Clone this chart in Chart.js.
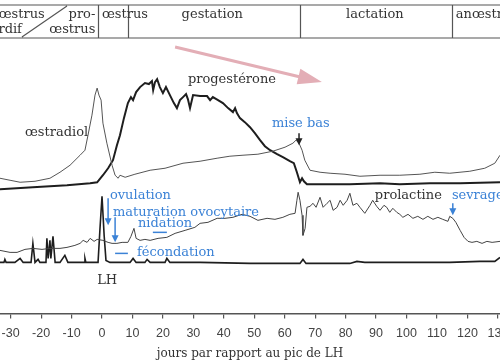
<!DOCTYPE html>
<html>
<head>
<meta charset="utf-8">
<script src="https://cdn.jsdelivr.net/npm/chart.js@4/dist/chart.umd.min.js"></script>
<style>
  html, body { margin: 0; padding: 0; background: #fff; }
  canvas { display: block; }
</style>
</head>
<body>
<canvas id="chart" width="500" height="362"></canvas>
<script>
// days relative to the LH peak, hormone levels in arbitrary units
var tickDays = [-30, -20, -10, 0, 10, 20, 30, 40, 50, 60, 70, 80, 90, 100, 110, 120, 130];

var estradiolDays = [-33.5, -30.2, -26.9, -22, -17.1, -13.8, -10.5, -7.2, -5.6, -4.6, -3.3, -2.3, -1.6, -1.0, -0.3, 0.3, 1.6, 3.3, 4.3, 5.3, 5.9, 7.6, 10.8, 15.8, 20.7, 26.6, 32.2, 37.8, 42.0, 46.3, 51.2, 56.1, 60.1, 62.7, 63.7, 64.7, 65.7, 66.6, 68.3, 71.6, 74.9, 79.8, 84.7, 91.3, 97.8, 104.4, 109.3, 114.2, 120.8, 125.7, 129, 130.7];
var estradiolVals = [135, 133, 131, 132, 135, 141, 148, 158, 163, 178, 198, 218, 225, 218, 213, 190, 170, 148, 138, 135, 138, 136, 139, 143, 145, 150, 152, 155, 157, 158, 159, 162, 166, 170, 173, 170, 163, 153, 143, 141, 140, 139, 137, 138, 138, 139, 141, 140, 142, 145, 150, 158];

var progesteroneDays = [-33.5, -22.7, -11.5, -3.9, -1.6, 0.3, 2.0, 3.6, 4.9, 5.9, 7.2, 8.5, 9.5, 10.2, 11.2, 12.5, 14.1, 15.4, 16.4, 16.8, 17.4, 18.1, 19.0, 20.0, 21.0, 22.3, 23.6, 24.6, 25.6, 26.6, 27.6, 28.2, 28.9, 29.9, 32.2, 34.5, 35.5, 36.4, 38.1, 39.7, 41.4, 43.0, 43.7, 44.3, 45.3, 46.9, 48.6, 50.2, 51.9, 53.5, 55.2, 57.5, 59.4, 61.7, 63.0, 64.0, 65.0, 65.7, 66.3, 67.3, 74.9, 81.4, 91.3, 97.8, 107.7, 117.6, 130.7];
var progesteroneVals = [124, 126, 128, 130, 131, 138, 145, 153, 168, 178, 195, 210, 216, 213, 221, 226, 230, 229, 232, 223, 231, 234, 226, 220, 226, 218, 210, 205, 213, 216, 219, 214, 205, 218, 217, 217, 213, 216, 213, 210, 205, 201, 205, 200, 195, 191, 186, 180, 173, 167, 163, 159, 156, 152, 150, 141, 131, 135, 132, 129, 129, 129, 130, 129, 130, 130, 131];

var prolactinDays = [-33.5, -30.2, -27.9, -25.3, -22.7, -19.7, -17.1, -13.8, -11.5, -8.9, -7.2, -6.2, -4.9, -3.9, -2.6, -1.6, 0.3, 2.0, 3.3, 4.9, 6.6, 8.5, 9.5, 10.5, 11.2, 12.5, 14.1, 15.8, 18.4, 21.3, 24.0, 27.3, 30.5, 32.2, 34.8, 37.8, 40.4, 43.0, 46.0, 48.6, 51.2, 54.2, 56.8, 59.4, 61.7, 63.4, 64.0, 64.4, 65.0, 65.7, 66.0, 66.7, 67.3, 68.3, 69.3, 70.3, 71.6, 72.6, 73.9, 74.9, 75.9, 77.2, 78.2, 79.2, 80.5, 81.4, 82.4, 83.7, 84.7, 86.3, 88.0, 88.9, 90.2, 91.3, 92.6, 93.5, 94.5, 95.5, 96.8, 97.8, 98.8, 100.5, 102.1, 103.7, 105.4, 107.0, 108.7, 110.3, 111.9, 113.6, 114.2, 115.2, 116.2, 117.6, 118.9, 120.2, 121.5, 123.1, 124.8, 126.4, 128.1, 130.7];
var prolactinVals = [63, 61, 61, 64, 65, 64, 65, 65, 66, 68, 70, 73, 71, 75, 72, 74, 73, 71, 70, 70, 71, 71, 77, 85, 75, 73, 74, 73, 75, 76, 80, 83, 86, 90, 91, 95, 95, 96, 99, 97, 93, 95, 94, 96, 99, 100, 113, 121, 113, 98, 78, 85, 106, 107, 110, 106, 116, 106, 110, 113, 103, 106, 113, 108, 113, 120, 108, 110, 106, 100, 108, 113, 107, 103, 108, 106, 101, 105, 101, 99, 96, 99, 95, 97, 94, 97, 94, 96, 94, 92, 97, 95, 91, 83, 76, 72, 71, 72, 70, 72, 71, 72];

var lhDays = [-33.5, -32.2, -31.9, -31.5, -28.6, -26.9, -25.9, -23.3, -22.7, -22.0, -21.0, -20.4, -18.4, -18.1, -17.7, -17.1, -16.8, -16.1, -15.4, -13.8, -12.2, -11.2, -5.9, -5.6, -5.3, -1.3, -0.7, 0, 0.7, 1.3, 2.6, 9.2, 10.2, 11.2, 14.1, 14.8, 15.8, 20.7, 21.3, 22.3, 32.2, 48.6, 65.0, 66.0, 67.0, 81.4, 83.7, 86.3, 97.8, 114.2, 124.1, 129, 130.7];
var lhVals = [51, 51, 54, 51, 51, 55, 51, 51, 70, 51, 54, 51, 51, 75, 55, 73, 55, 77, 51, 51, 58, 51, 51, 55, 51, 51, 83, 117, 78, 53, 51, 51, 55, 51, 51, 54, 51, 51, 55, 51, 51, 50, 50, 54, 50, 50, 52, 51, 51, 51, 52, 52, 56];

// reproductive phases (header), boundaries in days
var phaseBounds = [-1.3, 8.5, 65, 115];

var blue = '#3b82d6';
var ink = '#333';

function points(days, vals) {
  return days.map(function (d, i) { return {x: d, y: vals[i]}; });
}

var labels = [
  {text: 'œstradiol', day: -25.3, val: 181, color: ink},
  {text: 'progestérone', day: 28.2, val: 233, color: ink},
  {text: 'mise bas', day: 55.8, val: 190, color: blue},
  {text: 'prolactine', day: 89.6, val: 118, color: ink},
  {text: 'sevrage', day: 114.9, val: 118, color: blue},
  {text: 'ovulation', day: 2.6, val: 118, color: blue},
  {text: 'maturation ovocytaire', day: 3.6, val: 101, color: blue},
  {text: 'nidation', day: 11.8, val: 90, color: blue},
  {text: 'fécondation', day: 11.5, val: 61, color: blue},
  {text: 'LH', day: -1.6, val: 33, color: ink}
];

var arrows = [
  {day: 2.0, from: 115, to: 88, color: blue},
  {day: 4.3, from: 96, to: 71, color: blue},
  {day: 115.2, from: 110, to: 98, color: blue},
  {day: 64.7, from: 180, to: 168, color: '#222'}
];

var dashes = [
  {from: 16.7, to: 21.3, val: 81},
  {from: 4.3, to: 8.5, val: 60}
];

function arrowHead(ctx, x, y, angle, len, half) {
  ctx.save();
  ctx.translate(x, y);
  ctx.rotate(angle);
  ctx.beginPath();
  ctx.moveTo(0, 0);
  ctx.lineTo(-len, -half);
  ctx.lineTo(-len, half);
  ctx.closePath();
  ctx.fill();
  ctx.restore();
}

var decorations = {
  id: 'decorations',
  afterDraw: function (chart) {
    var ctx = chart.ctx;
    var xs = chart.scales.x, ys = chart.scales.y;
    var top = 5, bottom = chart.chartArea.top;
    ctx.save();

    // phase header
    ctx.strokeStyle = '#555';
    ctx.lineWidth = 1.2;
    ctx.beginPath();
    ctx.moveTo(0, top); ctx.lineTo(500, top);
    ctx.moveTo(0, bottom); ctx.lineTo(500, bottom);
    phaseBounds.forEach(function (d) {
      var x = Math.round(xs.getPixelForValue(d)) + 0.5;
      ctx.moveTo(x, top); ctx.lineTo(x, bottom);
    });
    ctx.moveTo(xs.getPixelForValue(-11.5), top + 1);
    ctx.lineTo(xs.getPixelForValue(-26.3), bottom - 1);
    ctx.stroke();

    ctx.fillStyle = ink;
    ctx.font = '13px "DejaVu Serif"';
    ctx.textBaseline = 'middle';
    ctx.textAlign = 'right';
    ctx.fillText('anœstrus', xs.getPixelForValue(-18.8), 15);
    ctx.fillText('tardif', xs.getPixelForValue(-26.3), 30);
    ctx.fillText('pro-', xs.getPixelForValue(-2.2), 15);
    ctx.fillText('œstrus', xs.getPixelForValue(-2.2), 30);
    ctx.textAlign = 'left';
    ctx.fillText('œstrus', xs.getPixelForValue(0), 15);
    ctx.fillText('anœstrus', xs.getPixelForValue(116.2), 15);
    ctx.textAlign = 'center';
    ctx.fillText('gestation', xs.getPixelForValue(36.2), 15);
    ctx.fillText('lactation', xs.getPixelForValue(89.6), 15);

    // pink trend arrow
    var ax0 = xs.getPixelForValue(24), ay0 = ys.getPixelForValue(266);
    var ax1 = xs.getPixelForValue(72.2), ay1 = ys.getPixelForValue(231);
    var ang = Math.atan2(ay1 - ay0, ax1 - ax0);
    ctx.strokeStyle = '#e3aeb6';
    ctx.fillStyle = '#e3aeb6';
    ctx.lineWidth = 3;
    ctx.beginPath();
    ctx.moveTo(ax0, ay0);
    ctx.lineTo(ax1 - 20 * Math.cos(ang), ay1 - 20 * Math.sin(ang));
    ctx.stroke();
    arrowHead(ctx, ax1, ay1, ang, 24, 8);

    // labels
    ctx.textAlign = 'left';
    labels.forEach(function (l) {
      ctx.fillStyle = l.color;
      ctx.fillText(l.text, xs.getPixelForValue(l.day), ys.getPixelForValue(l.val));
    });

    // small vertical arrows
    arrows.forEach(function (a) {
      var x = xs.getPixelForValue(a.day);
      var y0 = ys.getPixelForValue(a.from), y1 = ys.getPixelForValue(a.to);
      ctx.strokeStyle = a.color;
      ctx.fillStyle = a.color;
      ctx.lineWidth = 1.5;
      ctx.beginPath();
      ctx.moveTo(x, y0); ctx.lineTo(x, y1 - 5);
      ctx.stroke();
      arrowHead(ctx, x, y1, Math.PI / 2, 7, 3.5);
    });

    ctx.strokeStyle = blue;
    ctx.lineWidth = 1.5;
    dashes.forEach(function (d) {
      var y = ys.getPixelForValue(d.val);
      ctx.beginPath();
      ctx.moveTo(xs.getPixelForValue(d.from), y);
      ctx.lineTo(xs.getPixelForValue(d.to), y);
      ctx.stroke();
    });

    ctx.restore();
  }
};

new Chart(document.getElementById('chart'), {
  type: 'line',
  data: {
    datasets: [
      {label: 'œstradiol', data: points(estradiolDays, estradiolVals), borderColor: '#555', borderWidth: 1},
      {label: 'progestérone', data: points(progesteroneDays, progesteroneVals), borderColor: '#1e1e1e', borderWidth: 2},
      {label: 'prolactine', data: points(prolactinDays, prolactinVals), borderColor: '#444', borderWidth: 1},
      {label: 'LH', data: points(lhDays, lhVals), borderColor: '#1e1e1e', borderWidth: 1.6}
    ]
  },
  options: {
    responsive: false,
    animation: false,
    devicePixelRatio: 1,
    layout: {padding: {top: 38, left: 0, right: 0, bottom: 0}},
    elements: {point: {radius: 0}, line: {tension: 0, fill: false}},
    plugins: {legend: {display: false}, tooltip: {enabled: false}},
    scales: {
      x: {
        type: 'linear',
        min: -33.5,
        max: 130.7,
        afterBuildTicks: function (scale) {
          scale.ticks = tickDays.map(function (v) { return {value: v}; });
        },
        afterFit: function (scale) {
          scale.paddingLeft = 0;
          scale.paddingRight = 0;
        },
        grid: {drawOnChartArea: false, drawTicks: true, tickLength: 5, color: '#555', lineWidth: 1.2},
        border: {display: true, color: '#555', width: 1.5},
        ticks: {autoSkip: false, maxRotation: 0, padding: 9, color: '#444', font: {family: 'Liberation Sans', size: 12.5, lineHeight: 1}},
        title: {display: true, text: 'jours par rapport au pic de LH', color: ink, font: {family: 'DejaVu Serif', size: 12, lineHeight: 1}, padding: {top: -1, bottom: 2}}
      },
      y: {display: false, min: 0, max: 275}
    }
  },
  plugins: [decorations]
});
</script>
</body>
</html>
